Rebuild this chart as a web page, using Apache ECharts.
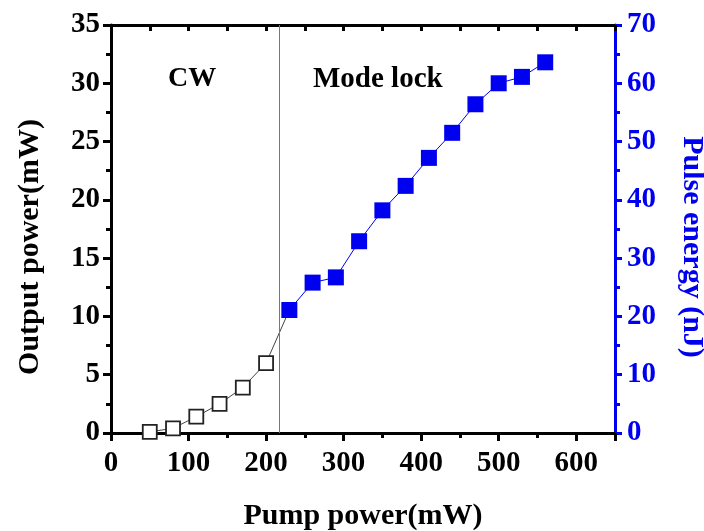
<!DOCTYPE html>
<html>
<head>
<meta charset="utf-8">
<script src="https://cdn.jsdelivr.net/npm/echarts@6/dist/echarts.min.js"></script>
<style>html,body{margin:0;padding:0;background:#fff;overflow:hidden;width:704px;height:531px;}#c{width:704px;height:531px;}</style>
</head>
<body>
<div id="c"></div>
<script>
// Data
const pumpCW = [50, 80, 110, 140, 170, 200, 230];
const powerCW = [0.1, 0.4, 1.4, 2.5, 3.9, 6.0, 10.55];
const pumpML = [230, 260, 290, 320, 350, 380, 410, 440, 470, 500, 530, 560];
const energyML = [21.1, 25.8, 26.7, 32.9, 38.2, 42.4, 47.2, 51.5, 56.4, 60.0, 61.1, 63.6];
const thresholdPump = 217;
const xTitle = 'Pump power(mW)';
const yLeftTitle = 'Output power(mW)';
const yRightTitle = 'Pulse energy (nJ)';

const FONT = '"Liberation Serif", "Times New Roman", serif';
const BLUE = '#0000f0';

const cwData = pumpCW.map((x, i) => {
  const d = { value: [x, powerCW[i]] };
  if (i === pumpCW.length - 1) d.symbol = 'none';
  return d;
});
const mlData = pumpML.map((x, i) => [x, energyML[i]]);

const chart = echarts.init(document.getElementById('c'), null, { width: 704, height: 531 });
chart.setOption({
  animation: false,
  backgroundColor: '#fff',
  grid: { left: 111, right: 89, top: 25, bottom: 98, containLabel: false, outerBoundsMode: 'none' },
  xAxis: [{
    type: 'value', min: 0, max: 650, interval: 100, position: 'bottom',
    name: xTitle, nameLocation: 'middle', nameGap: 68,
    nameTextStyle: { fontFamily: FONT, fontWeight: 'bold', fontSize: 30, color: '#000' },
    axisLine: { show: true, onZero: false, lineStyle: { color: '#000', width: 3 } },
    axisTick: { show: true, inside: false, length: 8, lineStyle: { color: '#000', width: 3 } },
    minorTick: { show: true, splitNumber: 2, length: 5, lineStyle: { color: '#000', width: 3 } },
    axisLabel: { fontFamily: FONT, fontWeight: 'bold', fontSize: 29, color: '#000', margin: 16, showMaxLabel: false },
    splitLine: { show: false }
  }, {
    type: 'value', min: 0, max: 650, interval: 50, position: 'top',
    axisLine: { show: true, onZero: false, lineStyle: { color: '#000', width: 3 } },
    axisTick: { show: true, inside: true, length: 6, lineStyle: { color: '#000', width: 3 } },
    axisLabel: { show: false },
    splitLine: { show: false }
  }],
  yAxis: [{
    type: 'value', min: 0, max: 35, interval: 5, position: 'left',
    name: yLeftTitle, nameLocation: 'middle', nameGap: 66, nameRotate: 90,
    nameTextStyle: { fontFamily: FONT, fontWeight: 'bold', fontSize: 30, color: '#000', padding: [0, 36, 0, 0] },
    axisLine: { show: true, onZero: false, lineStyle: { color: '#000', width: 3 } },
    axisTick: { show: true, inside: false, length: 8, lineStyle: { color: '#000', width: 3 } },
    minorTick: { show: true, splitNumber: 2, length: 5, lineStyle: { color: '#000', width: 3 } },
    axisLabel: { fontFamily: FONT, fontWeight: 'bold', fontSize: 29, color: '#000', margin: 11 },
    splitLine: { show: false }
  }, {
    type: 'value', min: 0, max: 70, interval: 10, position: 'right',
    name: yRightTitle, nameLocation: 'middle', nameGap: 62, nameRotate: -90,
    nameTextStyle: { fontFamily: FONT, fontWeight: 'bold', fontSize: 30, color: BLUE, padding: [0, 0, 0, 36] },
    axisLine: { show: true, onZero: false, lineStyle: { color: BLUE, width: 3 } },
    axisTick: { show: true, inside: false, length: 7, lineStyle: { color: BLUE, width: 3 } },
    minorTick: { show: true, splitNumber: 2, length: 5, lineStyle: { color: BLUE, width: 3 } },
    axisLabel: { fontFamily: FONT, fontWeight: 'bold', fontSize: 29, color: BLUE, margin: 12 },
    splitLine: { show: false }
  }],
  series: [{
    type: 'line', xAxisIndex: 0, yAxisIndex: 0, data: cwData,
    symbol: 'rect', symbolSize: 14,
    itemStyle: { color: '#fff', borderColor: '#222', borderWidth: 1.8 },
    lineStyle: { color: '#444', width: 1 },
    z: 3,
    markLine: {
      silent: true, symbol: 'none', label: { show: false },
      lineStyle: { color: '#777', width: 1, type: 'solid' },
      data: [{ xAxis: thresholdPump }]
    }
  }, {
    type: 'line', xAxisIndex: 0, yAxisIndex: 1, data: mlData,
    symbol: 'rect', symbolSize: 16,
    itemStyle: { color: BLUE, borderColor: BLUE, borderWidth: 0 },
    lineStyle: { color: BLUE, width: 1 },
    z: 4
  }],
  graphic: [{
    type: 'text', left: 168, top: 65,
    style: { text: 'CW', fontFamily: FONT, fontWeight: 'bold', fontSize: 28, fill: '#000' }
  }, {
    type: 'text', left: 313, top: 65,
    style: { text: 'Mode lock', fontFamily: FONT, fontWeight: 'bold', fontSize: 29, fill: '#000' }
  }]
});
</script>
</body>
</html>
